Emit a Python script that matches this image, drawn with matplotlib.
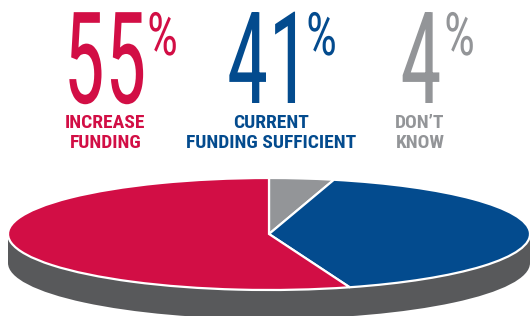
import matplotlib
matplotlib.use("Agg")
import matplotlib.pyplot as plt
from matplotlib.patches import Ellipse, Rectangle
from matplotlib.patheffects import AbstractPathEffect
from matplotlib.transforms import Affine2D

# ---- data ----
numbers = ["55", "41", "4"]
values = [55, 41, 4]
label_lines = [["INCREASE", "FUNDING"], ["CURRENT", "FUNDING SUFFICIENT"], ["DON\u2019T", "KNOW"]]
colors = ["#d20e45", "#034b8e", "#939598"]
side_color = "#58595b"

W, H = 531, 316
fig = plt.figure(figsize=(W / 100, H / 100), dpi=100)


class Stretch(AbstractPathEffect):
    """Scale glyph outlines about an anchor point (display pixels)."""

    def __init__(self, sx, sy, x0, y0):
        super().__init__()
        self.sx, self.sy, self.x0, self.y0 = sx, sy, x0, y0

    def draw_path(self, renderer, gc, tpath, affine, rgbFace=None):
        a = affine + Affine2D().translate(-self.x0, -self.y0).scale(self.sx, self.sy).translate(self.x0, self.y0)
        renderer.draw_path(gc, tpath, a, rgbFace)


# ---- pie (flattened 3D look) ----
cx, cy, rx, ry = 269, 234, 261, 56
depth = 29
pax = fig.add_axes([(cx - rx) / W, (H - cy - ry) / H, 2 * rx / W, 2 * ry / H])
d = depth / ry
pax.add_patch(Ellipse((0, -d), 2, 2, facecolor=side_color, edgecolor="none", zorder=0, clip_on=False))
pax.add_patch(Rectangle((-1, -d), 2, d, facecolor=side_color, edgecolor="none", zorder=0, clip_on=False))
wedges, _ = pax.pie(values[::-1], colors=colors[::-1], startangle=90, counterclock=False,
                    wedgeprops=dict(edgecolor="white", linewidth=1.6), radius=1)
for w in wedges:
    w.set_clip_on(False)
    w.set_zorder(2)
pax.set_aspect("auto")
pax.set_xlim(-1, 1)
pax.set_ylim(-1, 1)
pax.axis("off")

# ---- texts ----
tax = fig.add_axes([0, 0, 1, 1])
tax.set_xlim(0, W)
tax.set_ylim(H, 0)
tax.axis("off")

font = ["Roboto Condensed", "Liberation Sans Narrow", "DejaVu Sans"]
num_centers = [105, 268.5, 421]
pct_lefts = [147, 306, 444]
lab_centers = [105.5, 271, 420]

sx_num = 0.66
num_base = 92
num_base_y = 103
for s, c, x in zip(numbers, colors, num_centers):
    tax.text(x, num_base_y, s, color=c, fontsize=num_base * sx_num, family=font,
             ha="center", va="baseline",
             path_effects=[Stretch(1.0, 1 / sx_num, x, H - num_base_y)])

sx_pct = 0.82
pct_base = 43
pct_base_y = 55
for c, x in zip(colors, pct_lefts):
    tax.text(x, pct_base_y, "%", color=c, fontsize=pct_base * sx_pct, family=font,
             ha="left", va="baseline",
             path_effects=[Stretch(1.0, 1 / sx_pct, x, H - pct_base_y)])

for lines, c, x in zip(label_lines, colors, lab_centers):
    for i, ln in enumerate(lines):
        tax.text(x, 128 + 20 * i, ln, color=c, fontsize=14, family=font,
                 fontweight="bold", ha="center", va="baseline")

fig.savefig("out.png", dpi=100)
